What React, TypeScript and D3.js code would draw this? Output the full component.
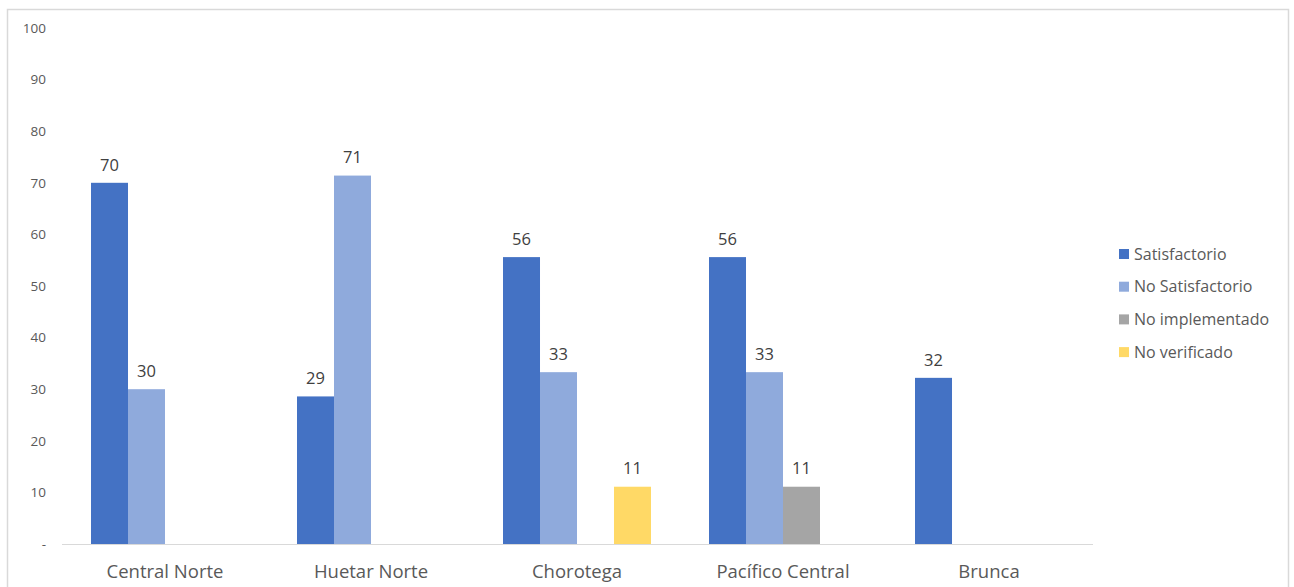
import React from "react";
import * as d3 from "d3";

const categories = ["Central Norte", "Huetar Norte", "Chorotega", "Pacífico Central", "Brunca"];
const seriesNames = ["Satisfactorio", "No Satisfactorio", "No implementado", "No verificado"];
const satisfactorio = [70, 28.6, 55.6, 55.6, 32.2];
const noSatisfactorio = [30, 71.4, 33.3, 33.3, null];
const noImplementado = [null, null, null, 11.1, null];
const noVerificado = [null, null, 11.1, null, null];
const yTicks = [0, 10, 20, 30, 40, 50, 60, 70, 80, 90, 100];

const seriesValues: (number | null)[][] = [satisfactorio, noSatisfactorio, noImplementado, noVerificado];
const colors = ["#4472C4", "#8FAADC", "#A5A5A5", "#FFD966"];

const W = 1294;
const H = 587;
const plot = { left: 62, right: 1092, top: 28, bottom: 544 };
const FONT = "'Open Sans', 'Noto Sans', sans-serif";

export default function App() {
  const x0 = d3.scaleBand<string>().domain(categories).range([plot.left, plot.right]).padding(0);
  const x1 = d3
    .scaleBand<string>()
    .domain(seriesNames)
    .range([0, x0.bandwidth()])
    .paddingInner(0)
    .paddingOuter(0.784);
  const y = d3.scaleLinear().domain([0, 100]).range([plot.bottom, plot.top]);
  const fmt = d3.format(".0f");

  return (
    <svg
      width={W}
      height={H}
      style={{ position: "absolute", left: 0, top: 0, background: "#fff" }}
      fontFamily={FONT}
    >
      <rect x={7.5} y={9.5} width={1281} height={600} fill="#fff" stroke="#D9D9D9" strokeWidth={1.5} />

      {/* value axis labels */}
      {yTicks.map((t) => (
        <text
          key={t}
          x={46}
          y={y(t)}
          dy="0.35em"
          textAnchor="end"
          fontSize={13.5}
          fill="#595959"
        >
          {t === 0 ? "-" : t}
        </text>
      ))}

      {/* bars */}
      {categories.map((c, ci) => (
        <g key={c} transform={`translate(${x0(c)},0)`}>
          {seriesNames.map((s, si) => {
            const v = seriesValues[si][ci];
            if (v == null) return null;
            const bx = x1(s)!;
            return (
              <g key={s}>
                <rect x={bx} y={y(v)} width={x1.bandwidth()} height={y(0) - y(v)} fill={colors[si]} />
                <text
                  x={bx + x1.bandwidth() / 2}
                  y={y(v) - 18}
                  dy="0.35em"
                  textAnchor="middle"
                  fontSize={16.5}
                  fill="#404040"
                >
                  {fmt(v)}
                </text>
              </g>
            );
          })}
        </g>
      ))}

      {/* category axis */}
      <line x1={plot.left} x2={plot.right + 1} y1={plot.bottom + 0.5} y2={plot.bottom + 0.5} stroke="#D9D9D9" strokeWidth={1} />
      {categories.map((c) => (
        <text
          key={c}
          x={x0(c)! + x0.bandwidth() / 2}
          y={572}
          dy="0.35em"
          textAnchor="middle"
          fontSize={18.5}
          fill="#595959"
        >
          {c}
        </text>
      ))}

      {/* legend */}
      {seriesNames.map((s, i) => (
        <g key={s} transform={`translate(1119,${254 + i * 32.7})`}>
          <rect x={0} y={-5} width={10} height={10} fill={colors[i]} />
          <text x={15} y={0} dy="0.35em" fontSize={16} fill="#595959">
            {s}
          </text>
        </g>
      ))}
    </svg>
  );
}
